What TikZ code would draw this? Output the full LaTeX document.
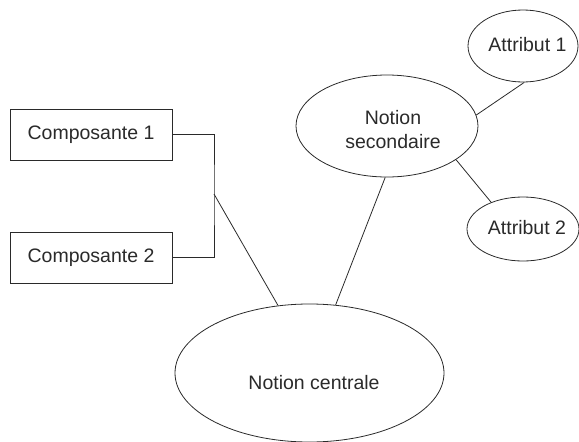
\documentclass[tikz,border=0pt]{standalone}
\usepackage{fontspec}
\setmainfont{Liberation Sans}
\usetikzlibrary{shapes.geometric}
\definecolor{ink}{HTML}{2A2A2A}
\begin{document}
\begin{tikzpicture}[x=1pt,y=-1pt,
  every node/.style={font=\fontsize{19.5}{24}\selectfont, text=ink},
  conn/.style={draw=ink, line width=0.8pt},
  boxn/.style={draw=ink, line width=0.8pt, rectangle, minimum width=162pt, minimum height=51pt, inner sep=0pt},
  ell/.style={draw=ink, line width=0.8pt, ellipse, inner sep=0pt}]
\useasboundingbox (0,0) rectangle (579,442);
% boxes
\node[boxn] (k1) at (91,134.5) {Composante 1};
\node[boxn] (k2) at (91,257.5) {Composante 2};
% ellipses
\node[ell, minimum width=269pt, minimum height=138pt] (c) at (309.5,373) {};
\node (ct) at (314,383) {Notion centrale};
\node[ell, minimum width=182pt, minimum height=102pt] (s) at (387,126) {};
\node[align=center] (st) at (393,130) {Notion\\secondaire};
\node[ell, minimum width=110pt, minimum height=72pt] (a1) at (523,46) {};
\node (a1t) at (527.5,45) {Attribut 1};
\node[ell, minimum width=112pt, minimum height=64pt] (a2) at (523,229) {};
\node (a2t) at (527,228) {Attribut 2};
% bracket
\coordinate (j) at (214,194);
\draw[conn] (k1.east) -| (214,194) |- (k2.east);
\draw[conn] (j) -- (c.115);
\draw[conn] (s.268) -- (c.69);
\draw[conn] (s.7) -- (a1.272);
\draw[conn] (s.334) -- (a2.140);
\end{tikzpicture}
\end{document}
